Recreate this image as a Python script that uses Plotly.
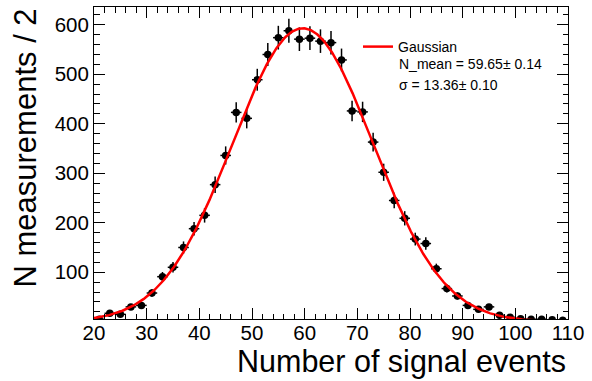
import numpy as np
import plotly.graph_objects as go

# ---- data ----
bin_centers = [21, 23, 25, 27, 29, 31, 33, 35, 37, 39, 41, 43, 45, 47, 49, 51, 53, 55, 57, 59,
               61, 63, 65, 67, 69, 71, 73, 75, 77, 79, 81, 83, 85, 87, 89, 91, 93, 95, 97, 99,
               101, 103, 105, 107, 109]
counts = [5, 17, 15, 30, 33, 58, 91, 110, 150, 188, 215, 277, 336, 423, 411, 489, 540, 574, 588, 571,
          573, 567, 564, 529, 426, 424, 363, 302, 245, 209, 167, 158, 107, 67, 52, 33, 25, 30, 13, 9,
          6, 5, 5, 4, 3]
bin_half_width = 1.0

# Gaussian fit parameters (from legend)
fit_amp = 593.0
fit_mean = 59.65
fit_mean_err = 0.14
fit_sigma = 13.36
fit_sigma_err = 0.10

x_ticks = [20, 30, 40, 50, 60, 70, 80, 90, 100, 110]
y_ticks = [100, 200, 300, 400, 500, 600]

FONT = "Liberation Sans, Arial, Helvetica, sans-serif"

errs = np.sqrt(np.array(counts, dtype=float))
xf = np.linspace(20, 110, 600)
yf = fit_amp * np.exp(-0.5 * ((xf - fit_mean) / fit_sigma) ** 2)

fig = go.Figure()
fig.add_trace(go.Scatter(
    x=bin_centers, y=counts, mode="markers",
    marker=dict(symbol="circle", size=7.5, color="black"),
    error_y=dict(type="data", array=errs, visible=True, color="black", thickness=1.5, width=0),
    error_x=dict(type="constant", value=bin_half_width, visible=True, color="black", thickness=1.5, width=0),
    showlegend=False,
))
fig.add_trace(go.Scatter(
    x=xf, y=yf, mode="lines", name="Gaussian",
    line=dict(color="red", width=2.5),
    showlegend=True,
))

fig.update_layout(
    width=592, height=381,
    margin=dict(l=94, r=24, t=7, b=62),
    paper_bgcolor="white", plot_bgcolor="white",
    font=dict(family=FONT, color="black"),
    legend=dict(x=(358 - 94) / 474, xanchor="left", y=(319 - 31) / 312, yanchor="top",
                bgcolor="rgba(0,0,0,0)", borderwidth=0,
                font=dict(family=FONT, size=14, color="black"),
                itemwidth=30),
)

fig.update_xaxes(
    range=[20, 110], tickmode="array", tickvals=x_ticks, ticktext=[str(v) for v in x_ticks],
    ticks="inside", ticklen=11, tickwidth=1, tickcolor="black",
    showline=True, linecolor="black", linewidth=1, mirror="allticks",
    showgrid=False, zeroline=False,
    tickfont=dict(family=FONT, size=20.5, color="black"),
    ticklabelstandoff=-5,
    minor=dict(dtick=2, tick0=20, ticks="inside", ticklen=5.5, tickwidth=1, tickcolor="black", showgrid=False),
)
fig.update_yaxes(
    range=[5.5, 636], tickmode="array", tickvals=y_ticks, ticktext=[str(v) for v in y_ticks],
    ticks="inside", ticklen=11, tickwidth=1, tickcolor="black",
    showline=True, linecolor="black", linewidth=1, mirror="allticks",
    showgrid=False, zeroline=False,
    tickfont=dict(family=FONT, size=20.5, color="black"),
    minor=dict(dtick=20, tick0=0, ticks="inside", ticklen=5.5, tickwidth=1, tickcolor="black", showgrid=False),
)

# axis titles
fig.add_annotation(text="Number of signal events", xref="paper", yref="paper",
                   x=1.0, xanchor="right", y=(319 - 381) / 312, yanchor="bottom",
                   showarrow=False, font=dict(family=FONT, size=30.5, color="black"))
fig.add_annotation(text="N measurements / 2", xref="paper", yref="paper",
                   x=(25 - 94) / 474, xanchor="center", y=(319 - 7) / 312, yanchor="top",
                   textangle=-90, showarrow=False, font=dict(family=FONT, size=31, color="black"))

# fit parameter text
fig.add_annotation(text=f"N_mean = {fit_mean:.2f}\u00b1 {fit_mean_err:.2f}", xref="paper", yref="paper",
                   x=(397 - 94) / 474, xanchor="left", y=(319 - 63.5) / 312, yanchor="middle",
                   showarrow=False, font=dict(family=FONT, size=14, color="black"))
fig.add_annotation(text=f"\u03c3 = {fit_sigma:.2f}\u00b1 {fit_sigma_err:.2f}", xref="paper", yref="paper",
                   x=(397 - 94) / 474, xanchor="left", y=(319 - 85) / 312, yanchor="middle",
                   showarrow=False, font=dict(family=FONT, size=14, color="black"))

fig.write_html("out.html")
